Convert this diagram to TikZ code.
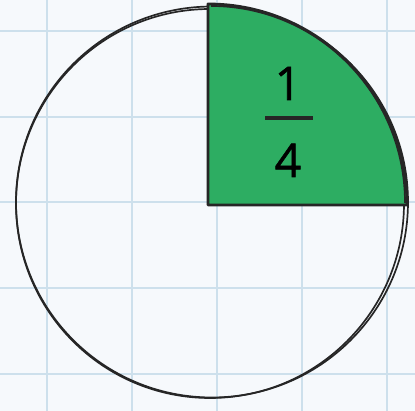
\documentclass[tikz,border=0pt]{standalone}
\usepackage{fontspec}
\setmainfont{Open Sans}
\newfontfamily\digitfont[FakeBold=1.3]{Open Sans}
\usepackage{tikz}
\usetikzlibrary{positioning, calc}

\definecolor{paper}{RGB}{246,249,252}
\definecolor{gridblue}{RGB}{205,224,236}
\definecolor{quartergreen}{RGB}{45,173,98}

\begin{document}
\begin{tikzpicture}[
    x=0.025cm, y=-0.025cm,
    gridline/.style={gridblue, line width=1.5pt},
    pencil/.style={black!85, line width=1.2pt},
    digit/.style={inner sep=0pt, anchor=base, font=\digitfont\fontsize{33}{40}\selectfont}
]

% Paper background and grid
\fill[paper] (0,0) rectangle (415,411);
\useasboundingbox (0,0) rectangle (415,411);
\foreach \gx in {47,132,217,302,387}
    \draw[gridline] (\gx,0) -- (\gx,411);
\foreach \gy in {31,117,202,288,374}
    \draw[gridline] (0,\gy) -- (415,\gy);

% Whole circle, drawn twice like a pencil stroke
\draw[pencil] (212,202) ellipse (196 and 195.5);
\draw[pencil] (210,203.5) ellipse (194 and 194.5);

% One quarter shaded
\coordinate (corner) at (208,205);
\filldraw[fill=quartergreen, draw=black!85, line width=2pt, line join=round]
    (corner) -- (208,4)
    arc[start angle=-90, end angle=0, x radius=199, y radius=201]
    -- cycle;
\draw[pencil] (211,6) arc[start angle=-90, end angle=0, x radius=194, y radius=197];

% The fraction
\node[digit] (one) at (288,100) {1};
\node[digit] (four) at (288,177) {4};
\draw[black!85, line width=2.8pt] (265,118) -- (313,118);

\end{tikzpicture}
\end{document}
